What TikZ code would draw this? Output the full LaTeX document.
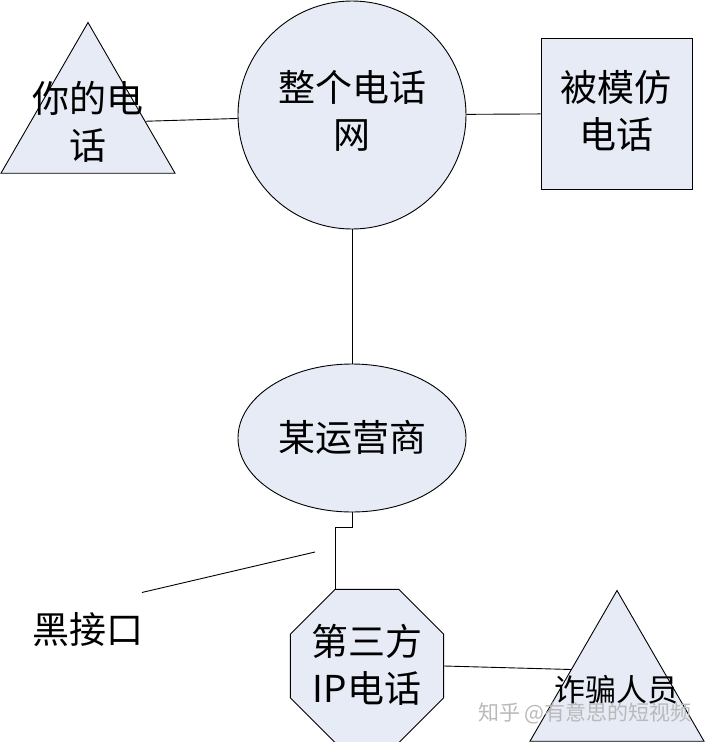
\documentclass[tikz,border=0pt]{standalone}
\usepackage{fontspec}
\setmainfont{Noto Sans CJK SC}
\usetikzlibrary{shapes.geometric}
\definecolor{shapefill}{RGB}{230,235,245}

\begin{document}
\begin{tikzpicture}[x=1pt,y=-1pt,line width=0.9pt,
    shp/.style={draw,fill=shapefill,inner sep=0pt},
    tri/.style={shp,regular polygon,regular polygon sides=3,minimum size=201pt},
    big/.style={font=\fontsize{37}{47}\selectfont,align=center,inner sep=0pt}]
  \useasboundingbox (0,0) rectangle (705,742);
  % shapes
  \node[tri] (you) at (88,123) {};
  \node[shp,circle,minimum size=228pt] (net) at (352,115) {};
  \node[shp,minimum size=151pt] (fake) at (616.5,113.5) {};
  \node[shp,ellipse,minimum width=228pt,minimum height=148pt] (op) at (352,438) {};
  \node[shp,regular polygon,regular polygon sides=8,minimum size=166pt] (ip) at (367,666) {};
  \node[tri] (cheat) at (617,691) {};
  % texts
  \node[big] at (88,122) {你的电\\话};
  \node[big] at (352,111) {整个电话\\网};
  \node[big] at (616,111) {被模仿\\电话};
  \node[big] at (352,437) {某运营商};
  \node[big] at (367,665) {第三方\\IP电话};
  \node[big,font=\fontsize{31}{31}\selectfont] at (616,690) {诈骗人员};
  \node[big] (hei) at (88,630) {黑接口};
  \node[font=\fontsize{21}{21}\selectfont,text=gray!55] (mark) at (585,713) {知乎 @有意思的短视频};
  % connectors
  \coordinate (port) at (315,552);
  \draw (you) -- (net);
  \draw (net) -- (fake);
  \draw (net) -- (op);
  \draw (op.south) -- ++(0,15) -| ([xshift=-32pt]ip.north);
  \draw ([shift={(-2,-20)}]hei.north east) -- (port);
  \draw (ip.east) -- (cheat.155);
\end{tikzpicture}
\end{document}
